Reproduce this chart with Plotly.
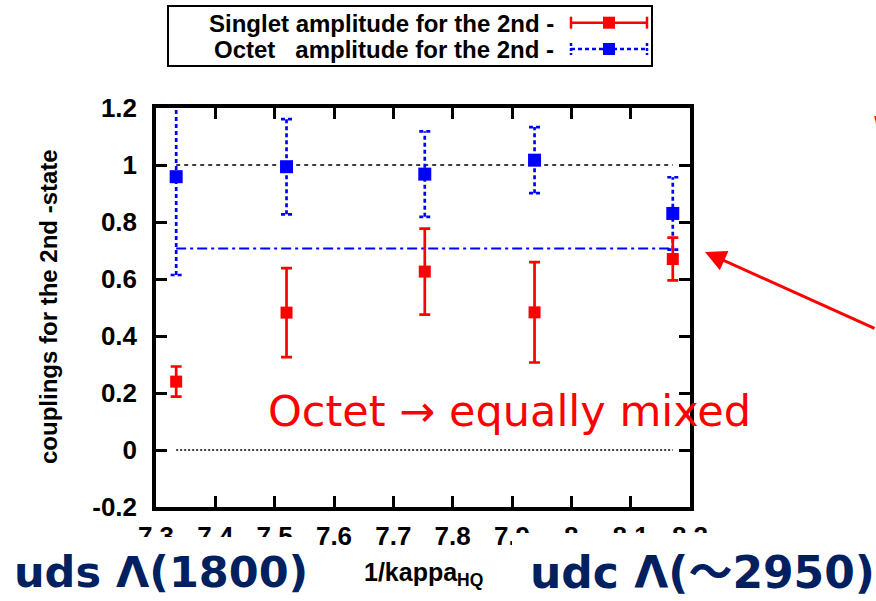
import plotly.graph_objects as go

# ---------------- data ----------------
x_vals = [7.334, 7.520, 7.753, 7.938, 8.171]
singlet = [0.240, 0.482, 0.626, 0.483, 0.670]
singlet_err = [0.053, 0.156, 0.151, 0.176, 0.075]
octet = [0.959, 0.994, 0.968, 1.017, 0.830]
octet_err = [0.345, 0.167, 0.150, 0.116, 0.127]
ref_levels = [1.0, 0.0, 0.7071]
x_ticks = [7.3, 7.4, 7.5, 7.6, 7.7, 7.8, 7.9, 8.0, 8.1, 8.2]
x_tick_labels = ["7.3", "7.4", "7.5", "7.6", "7.7", "7.8", "7.9", "8", "8.1", "8.2"]
y_ticks = [-0.2, 0.0, 0.2, 0.4, 0.6, 0.8, 1.0, 1.2]
y_tick_labels = ["-0.2", "0", "0.2", "0.4", "0.6", "0.8", "1", "1.2"]

# ---------------- geometry helpers ----------------
W, H = 876, 601
PL, PR, PT, PB = 156, 690, 108, 507          # plot area in pixels
L, T = PL, PT
R = W - PR
B = H - PB
PW = PR - PL
PH = PB - PT


def px(x):
    return (x - PL) / PW


def py(y):
    return (PB - y) / PH


RED = "#ff0000"
BLUE = "#0000ff"
NAVY = "#002060"
CHART_FONT = "Liberation Sans, Arial, sans-serif"
SLIDE_FONT = "DejaVu Sans, Noto Sans CJK JP, sans-serif"

fig = go.Figure()

# reference lines (drawn across the data x-range)
xr = [x_vals[0], x_vals[-1]]
fig.add_trace(go.Scatter(x=xr, y=[ref_levels[0]] * 2, mode="lines",
                         line=dict(color="black", width=1.6, dash="4px,4px"), hoverinfo="skip"))
fig.add_trace(go.Scatter(x=xr, y=[ref_levels[1]] * 2, mode="lines",
                         line=dict(color="black", width=1.6, dash="2px,2px"), hoverinfo="skip"))
fig.add_trace(go.Scatter(x=xr, y=[ref_levels[2]] * 2, mode="lines",
                         line=dict(color=BLUE, width=2, dash="10px,4px,3px,4px"), hoverinfo="skip"))

# octet error bars (dotted)
cap = 0.0093
bx, by = [], []
for x, v, e in zip(x_vals, octet, octet_err):
    bx += [x, x, None, x - cap, x + cap, None, x - cap, x + cap, None]
    by += [v - e, v + e, None, v + e, v + e, None, v - e, v - e, None]
fig.add_trace(go.Scatter(x=bx, y=by, mode="lines",
                         line=dict(color=BLUE, width=2.7, dash="4px,3px"), hoverinfo="skip"))

# singlet points with error bars
fig.add_trace(go.Scatter(
    x=x_vals, y=singlet, mode="markers",
    marker=dict(symbol="square", size=12, color=RED),
    error_y=dict(type="data", array=singlet_err, visible=True,
                 color=RED, thickness=2.7, width=5.5),
    name="Singlet"))

# octet points
fig.add_trace(go.Scatter(
    x=x_vals, y=octet, mode="markers",
    marker=dict(symbol="square", size=13, color=BLUE), name="Octet"))

axis_common = dict(
    showline=True, linecolor="black", linewidth=3.5, mirror="ticks",
    ticks="inside", ticklen=11, tickwidth=2.5, tickcolor="black",
    showgrid=False, zeroline=False,
    tickfont=dict(family=CHART_FONT, size=26, color="black", weight="bold"),
)

fig.update_layout(
    width=W, height=H, autosize=False,
    margin=dict(l=L, r=R, t=T, b=B),
    paper_bgcolor="white", plot_bgcolor="white",
    showlegend=False,
    xaxis=dict(range=[7.3, 8.2], tickvals=x_ticks, ticktext=x_tick_labels,
               ticklabelstandoff=3, **axis_common),
    yaxis=dict(range=[-0.2, 1.2], tickvals=y_ticks, ticktext=y_tick_labels,
               ticklabelstandoff=10, **axis_common),
)

shapes = []
# white boxes of slide text overlapping tick labels
shapes.append(dict(type="rect", xref="paper", yref="paper", layer="above",
                   x0=px(-5), x1=px(312), y0=py(620), y1=py(537),
                   line=dict(width=0), fillcolor="white"))
shapes.append(dict(type="rect", xref="paper", yref="paper", layer="above",
                   x0=px(512), x1=px(900), y0=py(620), y1=py(533),
                   line=dict(width=0), fillcolor="white"))

# legend box
shapes.append(dict(type="rect", xref="paper", yref="paper", layer="above",
                   x0=px(168), x1=px(652), y0=py(66), y1=py(6),
                   line=dict(color="black", width=2), fillcolor="white"))
# legend sample: singlet
ry = 22.7
shapes.append(dict(type="line", xref="paper", yref="paper", layer="above",
                   x0=px(571), x1=px(647), y0=py(ry), y1=py(ry),
                   line=dict(color=RED, width=2.5)))
for cx in (571, 647):
    shapes.append(dict(type="line", xref="paper", yref="paper", layer="above",
                       x0=px(cx), x1=px(cx), y0=py(ry - 6), y1=py(ry + 6),
                       line=dict(color=RED, width=2.5)))
shapes.append(dict(type="rect", xref="paper", yref="paper", layer="above",
                   x0=px(603), x1=px(615), y0=py(ry + 6), y1=py(ry - 6),
                   line=dict(width=0), fillcolor=RED))
# legend sample: octet
oy = 49
shapes.append(dict(type="line", xref="paper", yref="paper", layer="above",
                   x0=px(571), x1=px(647), y0=py(oy), y1=py(oy),
                   line=dict(color=BLUE, width=2.5, dash="4px,3px")))
for cx in (571, 647):
    shapes.append(dict(type="line", xref="paper", yref="paper", layer="above",
                       x0=px(cx), x1=px(cx), y0=py(oy - 6), y1=py(oy + 6),
                       line=dict(color=BLUE, width=2.5, dash="3px,2px")))
shapes.append(dict(type="rect", xref="paper", yref="paper", layer="above",
                   x0=px(603), x1=px(615), y0=py(oy + 6), y1=py(oy - 6),
                   line=dict(width=0), fillcolor=BLUE))
fig.update_layout(shapes=shapes)

ann = []
chart_font = dict(family=CHART_FONT, size=24, color="black", weight="bold")
ann.append(dict(xref="paper", yref="paper", x=px(556), y=py(23), xanchor="right", yanchor="middle",
                text="Singlet amplitude for the 2nd -", showarrow=False, font=chart_font))
ann.append(dict(xref="paper", yref="paper", x=px(556), y=py(50), xanchor="right", yanchor="middle",
                text="Octet\u00a0\u00a0\u00a0amplitude for the 2nd -", showarrow=False, font=chart_font))
# axis titles
ann.append(dict(xref="paper", yref="paper", x=px(423), y=py(574), xanchor="center", yanchor="middle",
                text="1/kappa<sub>HQ</sub>", showarrow=False,
                font=dict(family=CHART_FONT, size=25, color="black", weight="bold")))
ann.append(dict(xref="paper", yref="paper", x=px(48), y=py(307), xanchor="center", yanchor="middle",
                text="couplings for the 2nd -state", textangle=-90, showarrow=False,
                font=dict(family=CHART_FONT, size=24, color="black", weight="bold")))
# slide texts
ann.append(dict(xref="paper", yref="paper", x=px(12), y=py(572), xanchor="left", yanchor="middle",
                text="uds Λ(1800)", showarrow=False,
                font=dict(family=SLIDE_FONT, size=43, color=NAVY, weight="bold")))
ann.append(dict(xref="paper", yref="paper", x=px(528), y=py(572), xanchor="left", yanchor="middle",
                text="udc Λ(～2950)", showarrow=False,
                font=dict(family=SLIDE_FONT, size=44, color=NAVY, weight="bold")))
ann.append(dict(xref="paper", yref="paper", x=px(266), y=py(411), xanchor="left", yanchor="middle",
                text="Octet → equally mixed", showarrow=False,
                font=dict(family=SLIDE_FONT, size=43, color=RED)))
ann.append(dict(xref="paper", yref="paper", x=px(871), y=py(132), xanchor="left", yanchor="middle",
                text="W", showarrow=False,
                font=dict(family=SLIDE_FONT, size=40, color=RED)))
# red arrow
ann.append(dict(xref="paper", yref="paper", x=px(705), y=py(252), text="", showarrow=True,
                ax=200, ay=77, axref="pixel", ayref="pixel",
                arrowhead=2, arrowsize=1.4, arrowwidth=3, arrowcolor=RED))
fig.update_layout(annotations=ann)

fig.write_html("out.html",
               config={"displayModeBar": False},
               post_script="document.body.style.margin='0px';document.body.style.padding='0px';")
